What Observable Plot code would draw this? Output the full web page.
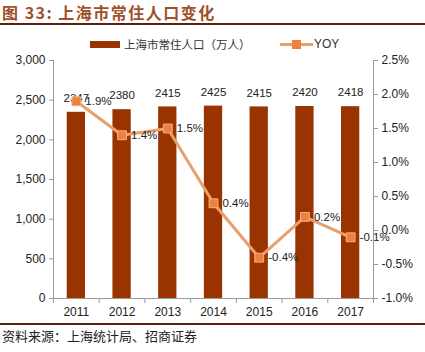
<!DOCTYPE html>
<html>
<head>
<meta charset="utf-8">
<script src="https://cdn.jsdelivr.net/npm/d3@7"></script>
<script src="https://cdn.jsdelivr.net/npm/@observablehq/plot@0.6"></script>
<style>
  body { margin: 0; background: #fff; width: 425px; font-family: "Liberation Sans", Arial, sans-serif; }
  #title { height: 23px; line-height: 24px; font-family: "Noto Sans CJK SC", sans-serif; font-weight: bold; font-size: 16px; color: #a0502a; padding-left: 2px; letter-spacing: 1.5px; border-bottom: 2px solid #5a1f0f; overflow: visible; }
  #legend { height: 16px; padding-top: 11px; line-height: 16px; font-size: 12px; color: #333; position: relative; font-family: "Noto Sans CJK SC", sans-serif; }
  .sw1 { position: absolute; left: 90px; top: 16px; width: 30px; height: 7px; background: #993300; }
  .t1 { position: absolute; left: 124px; top: 11px; font-size: 11.5px; }
  .sw2 { position: absolute; left: 280px; top: 18px; width: 33px; height: 3px; background: #e8a06b; }
  .sw2m { position: absolute; left: 292px; top: 15px; width: 9px; height: 9px; background: #f08040; }
  .t2 { position: absolute; left: 314px; top: 11px; font-family: "Liberation Sans", Arial, sans-serif; }
  #source { border-top: 2px solid #5a1f0f; font-family: "Noto Sans CJK SC", sans-serif; font-size: 13px; color: #222; padding-left: 2px; line-height: 22px; }
</style>
</head>
<body>
<div id="title">图 33: 上海市常住人口变化</div>
<div id="legend"><div class="sw1"></div><span class="t1">上海市常住人口（万人）</span><div class="sw2"></div><div class="sw2m"></div><span class="t2">YOY</span></div>
<div id="chart"></div>
<div id="source">资料来源：上海统计局、招商证券</div>
<script>
const years = [2011, 2012, 2013, 2014, 2015, 2016, 2017];
const population = [2347, 2380, 2415, 2425, 2415, 2420, 2418];
const yoy = [1.9, 1.4, 1.5, 0.4, -0.4, 0.2, -0.1];
const leftTicks = [0, 500, 1000, 1500, 2000, 2500, 3000];
const rightTicks = [-1.0, -0.5, 0.0, 0.5, 1.0, 1.5, 2.0, 2.5];

const toY = v => (v + 1) / 3.5 * 3000;
const data = years.map((year, i) => ({year, pop: population[i], yoy: yoy[i]}));
const boundaries = years.map(y => y - 0.5).concat([years[years.length - 1] + 0.5]);

const chart = Plot.plot({
  width: 425,
  height: 271,
  marginTop: 8,
  marginBottom: 25,
  marginLeft: 53,
  marginRight: 52,
  style: {fontFamily: "Liberation Sans, Arial, sans-serif", fontSize: "12px", color: "#222"},
  x: {domain: [2010.5, 2017.5]},
  y: {domain: [0, 3000]},
  marks: [
    Plot.rectY(data, {x1: d => d.year - 0.2, x2: d => d.year + 0.2, y: "pop", fill: "#993300"}),
    Plot.text(data, {x: "year", y: "pop", text: d => String(d.pop), dy: -14, fontSize: 11.5, fill: "#222"}),
    Plot.line(data, {x: "year", y: d => toY(d.yoy), stroke: "#e8a06b", strokeWidth: 3}),
    Plot.dot(data, {x: "year", y: d => toY(d.yoy), symbol: "square", r: 5, fill: "#f08040", stroke: "#f4b080", strokeWidth: 1}),
    Plot.text(data, {x: "year", y: d => toY(d.yoy), text: d => d.yoy.toFixed(1) + "%", dx: 9, textAnchor: "start", fontSize: 11.5, fill: "#222"}),
    Plot.ruleX([2010.5], {stroke: "#999"}),
    Plot.ruleX([2017.5], {stroke: "#999"}),
    Plot.ruleY([0], {stroke: "#999"}),
    Plot.axisY({ticks: leftTicks, tickFormat: d3.format(","), tickSize: 4, tickPadding: 4, stroke: "#999", fill: "#222", label: null}),
    Plot.axisY({anchor: "right", ticks: rightTicks.map(toY), tickFormat: (d, i) => rightTicks[i].toFixed(1) + "%", tickSize: 4, tickPadding: 4, stroke: "#999", fill: "#222", label: null}),
    Plot.axisX({ticks: boundaries, tickFormat: () => "", tickSize: 5, stroke: "#999", label: null}),
    Plot.axisX({ticks: years, tickFormat: d => String(d), tickSize: 0, tickPadding: 9, fill: "#222", label: null})
  ]
});
document.getElementById("chart").appendChild(chart);
</script>
</body>
</html>
